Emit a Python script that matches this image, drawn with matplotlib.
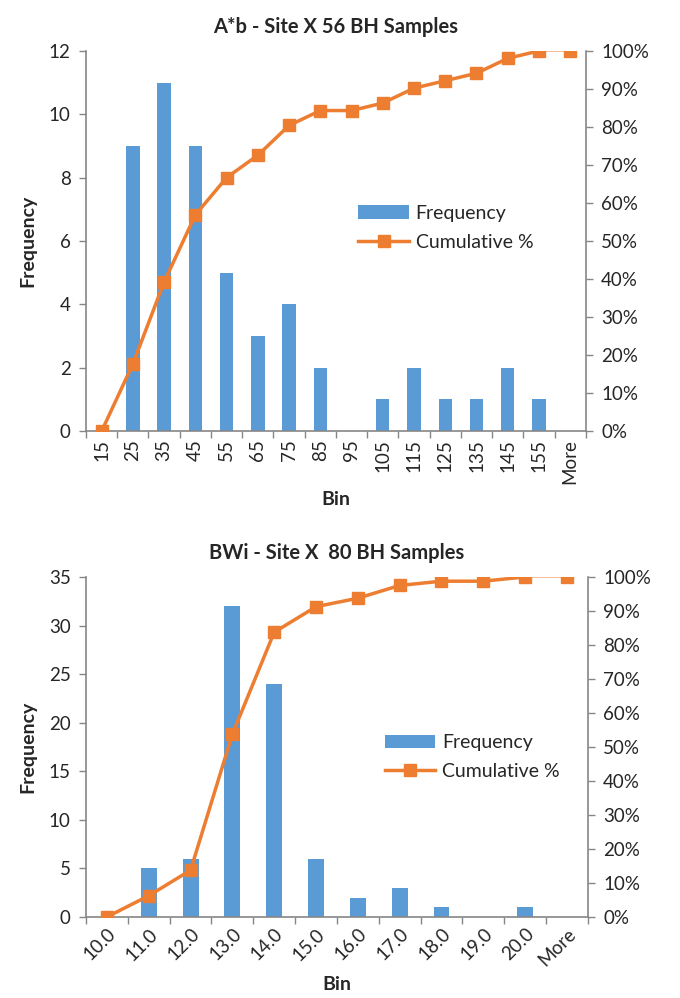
import numpy as np
import matplotlib
matplotlib.use("Agg")
import matplotlib.pyplot as plt
from matplotlib.ticker import MultipleLocator, FuncFormatter, FixedLocator

plt.rcParams['font.family'] = ['Lato', 'DejaVu Sans']

# Histogram tables
ab_bins = ['15', '25', '35', '45', '55', '65', '75', '85', '95', '105',
           '115', '125', '135', '145', '155', 'More']
ab_freq = [0, 9, 11, 9, 5, 3, 4, 2, 0, 1, 2, 1, 1, 2, 1, 0]

bwi_bins = ['10.0', '11.0', '12.0', '13.0', '14.0', '15.0', '16.0', '17.0',
            '18.0', '19.0', '20.0', 'More']
bwi_freq = [0, 5, 6, 32, 24, 6, 2, 3, 1, 0, 1, 0]

BLUE = '#5B9BD5'
ORANGE = '#ED7D31'
GRAY = '#868686'
TEXT = '#262626'


def pareto(fig, rect, title, bins, freq, ymax, ystep, rot, bar_w, leg_at):
    ax = fig.add_axes(rect)
    x = np.arange(len(bins))
    freq = np.array(freq)
    cum = np.cumsum(freq) / freq.sum()

    ax.bar(x, freq, width=bar_w, color=BLUE, label='Frequency', zorder=2)
    ax.set_xlim(-0.5, len(bins) - 0.5)
    ax.set_ylim(0, ymax)
    ax.yaxis.set_major_locator(MultipleLocator(ystep))

    # Excel style: tick marks between categories, labels at centres
    ax.set_xticks(x)
    if rot == 90:
        ax.set_xticklabels(bins, rotation=90, ha='center', va='top')
    else:
        ax.set_xticklabels(bins, rotation=45, ha='right', va='top',
                           rotation_mode='anchor')
    ax.xaxis.set_minor_locator(FixedLocator(np.arange(len(bins) + 1) - 0.5))
    ax.tick_params(axis='x', which='major', length=0, pad=6)
    ax.tick_params(axis='x', which='minor', length=5, color=GRAY, width=1)
    ax.tick_params(axis='y', length=5, color=GRAY, width=1, pad=6)
    ax.tick_params(labelsize=13.5, labelcolor=TEXT)

    ax2 = ax.twinx()
    ax2.plot(x[:-1], cum[:-1], color=ORANGE, lw=2.5, marker='s', ms=8,
             zorder=3, label='Cumulative %')
    ax2.plot(x[-2:], cum[-2:], color=ORANGE, lw=1.2, alpha=0.6, zorder=3)
    ax2.plot(x[-1:], cum[-1:], color=ORANGE, ls='none', marker='s', ms=8,
             zorder=3)
    ax2.set_ylim(0, 1)
    ax2.set_xlim(-0.5, len(bins) - 0.5)
    ax2.yaxis.set_major_locator(MultipleLocator(0.1))
    ax2.yaxis.set_major_formatter(FuncFormatter(lambda v, p: f'{v * 100:.0f}%'))
    ax2.tick_params(axis='y', length=5, color=GRAY, width=1, pad=6,
                    labelsize=13.5, labelcolor=TEXT)

    for a in (ax, ax2):
        a.spines['top'].set_visible(False)
        for s in ('left', 'right', 'bottom'):
            a.spines[s].set_color(GRAY)
            a.spines[s].set_linewidth(1.2)
    ax.spines['right'].set_visible(False)
    ax2.spines['left'].set_visible(False)
    ax2.spines['bottom'].set_visible(False)

    ax.set_title(title, fontsize=14.5, fontweight='bold', color=TEXT, pad=13)
    ax.set_ylabel('Frequency', fontsize=14, fontweight='bold', color=TEXT,
                  labelpad=9)
    ax.set_xlabel('Bin', fontsize=14, fontweight='bold', color=TEXT,
                  labelpad=5)

    h1, l1 = ax.get_legend_handles_labels()
    h2, l2 = ax2.get_legend_handles_labels()
    ax2.legend(h1 + h2, l1 + l2, loc='center', bbox_to_anchor=leg_at,
               frameon=False, fontsize=14, handlelength=2.6,
               handletextpad=0.35, labelspacing=0.6, labelcolor=TEXT)
    return ax


fig = plt.figure(figsize=(6.8, 9.98), dpi=100)
pareto(fig, [0.1265, 0.568, 0.735, 0.381], 'A*b - Site X 56 BH Samples',
       ab_bins, ab_freq, 12, 2, 90, 0.43, (0.72, 0.535))
pareto(fig, [0.1265, 0.0812, 0.738, 0.3407], 'BWi - Site X  80 BH Samples',
       bwi_bins, bwi_freq, 35, 5, 45, 0.38, (0.77, 0.47))

fig.savefig('out.png', dpi=100)
